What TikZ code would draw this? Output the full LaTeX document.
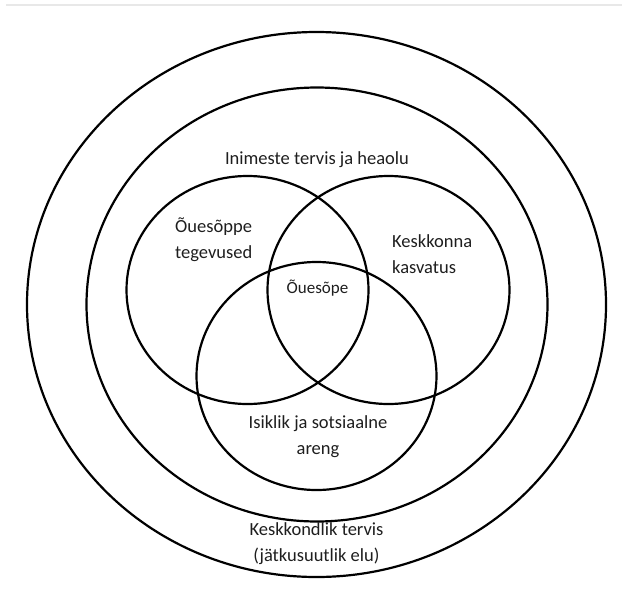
\documentclass[tikz,border=0pt]{standalone}
\usepackage{fontspec}
\setmainfont{Carlito}
\usepackage{tikz}
\usepackage{xcolor}
\usetikzlibrary{positioning}

\definecolor{txtgray}{RGB}{30,30,30}
\definecolor{rulegray}{RGB}{232,232,232}

\tikzset{
    ring/.style={draw=black, line width=2.2pt},
    lbl/.style={font=\fontsize{18.5}{26}\selectfont, text=txtgray, inner sep=0pt}
}

\begin{document}
\begin{tikzpicture}[x=1pt, y=-1pt]
                        \useasboundingbox (0, 0) rectangle (622, 590);
                        \coordinate (rulel) at (6, 5);
                        \coordinate (ruler) at (622, 5);
                        \coordinate (env) at (316.5, 304.5);
                        \coordinate (hum) at (317, 304.5);
                        \coordinate (act) at (247.5, 290);
                        \coordinate (edu) at (388.5, 290);
                        \coordinate (dev) at (316.5, 376);
                        \draw[rulegray, line width=1.5pt] (rulel) -- (ruler);
                        \draw[ring] (env) ellipse (289.5pt and 272.5pt);
                        \draw[ring] (hum) ellipse (230.5pt and 217pt);
                        \draw[ring] (act) ellipse (121pt and 114pt);
                        \draw[ring] (edu) ellipse (121pt and 114pt);
                        \draw[ring] (dev) ellipse (120pt and 114pt);
                        \node[lbl] (people) at (317, 160) {Inimeste tervis ja heaolu};
                        \node[lbl, align=left, anchor=west] (outdoor) at (175, 240) {Õuesõppe\\tegevused};
                        \node[lbl, align=left, anchor=west] (envedu) at (392, 254.5) {Keskkonna\\kasvatus};
                        \node[lbl, font=\fontsize{17}{20}\selectfont] (core) at (317.5, 288) {Õuesõpe};
                        \node[lbl, align=center] (personal) at (318, 437) {Isiklik ja sotsiaalne\\areng};
                        \node[lbl, align=center] (envhealth) at (316.5, 544) {Keskkondlik tervis\\(jätkusuutlik elu)};
                    \end{tikzpicture}
\end{document}
